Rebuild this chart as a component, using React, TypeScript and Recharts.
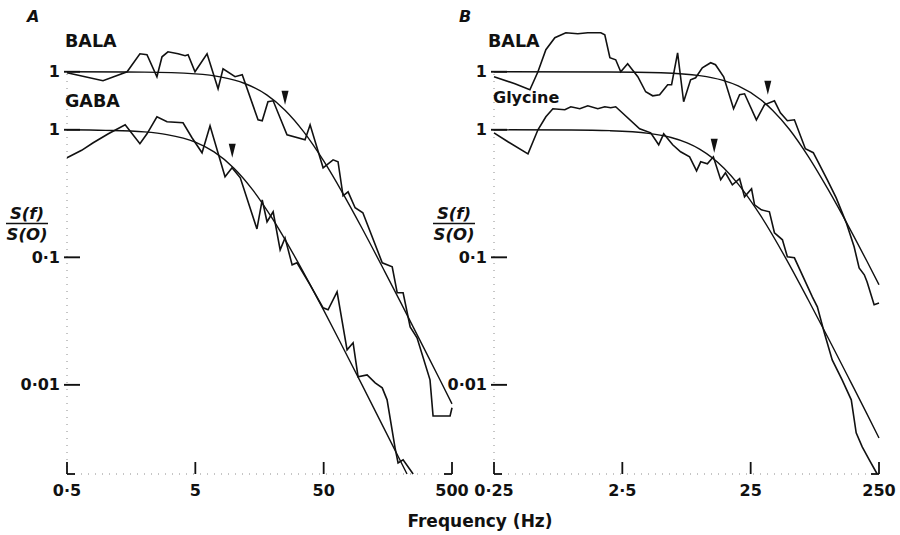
import { LineChart, Line, XAxis, YAxis, ReferenceLine, ReferenceDot } from "recharts";

// BALA spectra are drawn shifted up so the two "1" levels sit apart
const BALA_OFFSET = 2.85;
const FLOOR = 0.002;
const Y_TOP = 7;

// ---- panel A (Hz, S(f)/S(0)) ----
const balaAFreq = [0.5, 0.954, 1.47, 1.85, 2.1, 2.51, 2.75, 3.06, 3.67, 4.16, 4.39, 4.97, 6.17, 7.52, 8.22, 10.2, 11.6, 15.4, 16.6, 18.4, 20.2, 25.9, 35.8, 39.2, 49.5, 59.2, 64.7, 70.8, 77.5, 87.9, 101, 143, 171, 187, 208, 236, 267, 337, 356, 483, 500];
const balaAVal = [0.982, 0.85, 1.0, 1.384, 1.359, 0.914, 1.311, 1.435, 1.384, 1.335, 1.359, 1.0, 1.384, 0.736, 1.056, 0.914, 0.947, 0.42, 0.413, 0.582, 0.592, 0.3206, 0.293, 0.384, 0.1767, 0.204, 0.197, 0.1066, 0.1145, 0.0858, 0.0784, 0.0318, 0.0296, 0.0185, 0.0185, 0.01, 0.0082, 0.00384, 0.002, 0.002, 0.00232];

const gabaFreq = [0.5, 0.65, 0.8, 1.05, 1.42, 1.85, 2.1, 2.51, 3.01, 4.01, 4.71, 5.64, 6.51, 8.52, 9.66, 11.2, 15.1, 16.6, 18.1, 20.2, 22.9, 25.0, 28.4, 31.0, 39.2, 49.5, 54.1, 63.6, 76.1, 84.8, 92.7, 109, 126, 143, 156, 180, 190, 208, 249];
const gabaVal = [0.603, 0.69, 0.791, 0.93, 1.094, 0.777, 0.93, 1.264, 1.155, 1.135, 0.866, 0.66, 1.075, 0.428, 0.503, 0.42, 0.167, 0.282, 0.19, 0.2275, 0.1145, 0.142, 0.0873, 0.0905, 0.0609, 0.0402, 0.0388, 0.0536, 0.0188, 0.02135, 0.01155, 0.01198, 0.01037, 0.00947, 0.00763, 0.00321, 0.00244, 0.00258, 0.002];

const balaAFitFreq = [0.5, 2, 5, 8, 12, 18, 25, 35, 50, 70, 100, 150, 200, 300, 400, 500];
const balaAFitVal = [1, 0.994, 0.962, 0.907, 0.813, 0.659, 0.5, 0.338, 0.2, 0.113, 0.0588, 0.027, 0.0154, 0.0069, 0.0039, 0.00249];
const gabaFitFreq = [0.5, 1, 2, 3, 5, 7, 10, 14, 20, 30, 50, 70, 100, 150, 223];
const gabaFitVal = [1, 0.99, 0.962, 0.917, 0.8, 0.671, 0.5, 0.338, 0.2, 0.1, 0.0385, 0.02, 0.0099, 0.00442, 0.002];

// ---- panel B ----
const balaBFreq = [0.25, 0.364, 0.476, 0.55, 0.634, 0.745, 0.907, 1.125, 1.345, 1.7, 1.825, 2.0, 2.22, 2.43, 2.75, 3.3, 3.8, 4.31, 4.88, 5.64, 6.05, 6.74, 7.51, 8.51, 9.31, 10.5, 12.2, 13.3, 15.4, 18.4, 20.5, 22.4, 27.7, 32.0, 38.3, 42.6, 48.3, 54.8, 66.7, 76.9, 98.9, 116, 139, 160, 175, 192, 202, 229, 250];
const balaBVal = [0.914, 0.805, 0.723, 1.0, 1.488, 1.848, 2.022, 1.986, 2.022, 2.022, 1.951, 1.288, 1.242, 1.0, 1.155, 0.914, 0.697, 0.648, 0.66, 0.791, 0.791, 1.409, 0.582, 0.866, 0.897, 1.075, 1.177, 1.135, 0.914, 0.513, 0.66, 0.672, 0.42, 0.551, 0.592, 0.477, 0.413, 0.42, 0.249, 0.232, 0.142, 0.1027, 0.0654, 0.0424, 0.029, 0.0256, 0.0225, 0.0149, 0.0154];

const glyFreq = [0.25, 0.321, 0.46, 0.55, 0.634, 0.719, 0.891, 0.992, 1.166, 1.345, 1.61, 1.825, 2.03, 2.22, 3.41, 4.16, 4.8, 5.25, 6.17, 7.11, 8.36, 9.47, 10.2, 11.5, 12.8, 14.6, 15.9, 18.0, 20.5, 22.4, 25.4, 26.8, 30.3, 35.0, 38.3, 44.2, 48.3, 54.8, 75.6, 82.7, 93.7, 108, 129, 152, 166, 185, 210, 242];
const glyVal = [0.947, 0.805, 0.648, 1.0, 1.264, 1.461, 1.435, 1.515, 1.461, 1.542, 1.461, 1.515, 1.488, 1.515, 1.018, 0.947, 0.763, 0.93, 0.763, 0.672, 0.614, 0.477, 0.561, 0.541, 0.614, 0.4055, 0.46, 0.37, 0.413, 0.298, 0.3445, 0.258, 0.2358, 0.2275, 0.1557, 0.1372, 0.1009, 0.0991, 0.049, 0.0409, 0.0256, 0.0157, 0.01094, 0.00763, 0.00421, 0.00326, 0.00258, 0.002];

const balaBFitFreq = [0.25, 2, 5, 10, 15, 20, 30, 37, 50, 70, 100, 150, 200, 250];
const balaBFitVal = [1, 0.997, 0.982, 0.932, 0.859, 0.774, 0.603, 0.5, 0.354, 0.218, 0.12, 0.0574, 0.0331, 0.0214];
const glyFitFreq = [0.25, 1, 2, 4, 6, 8, 10, 15.5, 20, 30, 50, 70, 100, 150, 200, 250];
const glyFitVal = [1, 0.996, 0.984, 0.938, 0.87, 0.79, 0.706, 0.5, 0.375, 0.211, 0.0877, 0.0467, 0.0235, 0.0106, 0.006, 0.00383];

// corner-frequency arrowheads (tip position, normalised)
const arrowsAFreq = [25, 9.7];
const arrowsAVal = [0.551, 0.603];
const arrowsBFreq = [34, 13];
const arrowsBVal = [0.66, 0.66];

const xTicksA = [0.5, 5, 50, 500];
const xLabelsA = ["0·5", "5", "50", "500"];
const xTicksB = [0.25, 2.5, 25, 250];
const xLabelsB = ["0·25", "2·5", "25", "250"];

const yTicks = [BALA_OFFSET, 1, 0.1, 0.01];
const yLabels = ["1", "1", "0·1", "0·01"];

const FONT = "'DejaVu Sans', 'Liberation Sans', sans-serif";
const INK = "#111";
const X_MARGIN = 16;
const Y_MARGIN = 7;

type Pt = { f: number; v: number };
const pts = (fs: number[], vs: number[], k = 1): Pt[] => fs.map((f, i) => ({ f, v: vs[i] * k }));

function XTick(props: any) {
  const { x, y, index, visibleTicksCount, labels } = props;
  const axisY = y - X_MARGIN;
  const last = index === visibleTicksCount - 1;
  return (
    <g>
      <line x1={x} x2={x} y1={axisY} y2={axisY - 12} stroke={INK} strokeWidth={1.8} />
      {index === 0 && <line x1={x} x2={x + 8} y1={axisY} y2={axisY} stroke={INK} strokeWidth={1.8} />}
      {last && <line x1={x - 8} x2={x} y1={axisY} y2={axisY} stroke={INK} strokeWidth={1.8} />}
      <text x={x} y={y} textAnchor="middle" dominantBaseline="central" fontFamily={FONT} fontSize={16} fontWeight="bold" fill={INK}>
        {labels[index]}
      </text>
    </g>
  );
}

function YTick(props: any) {
  const { x, y, payload } = props;
  const axisX = x + Y_MARGIN;
  const i = yTicks.findIndex((t) => Math.abs(t - payload.value) < 1e-9);
  return (
    <g>
      <line x1={axisX - 3} x2={axisX + 13} y1={y} y2={y} stroke={INK} strokeWidth={1.9} />
      <text x={x} y={y} textAnchor="end" dominantBaseline="central" fontFamily={FONT} fontSize={16} fontWeight="bold" fill={INK}>
        {yLabels[i]}
      </text>
    </g>
  );
}

function Arrow(props: any) {
  const { cx, cy } = props;
  return <polygon points={`${cx - 3.5},${cy - 14} ${cx + 3.5},${cy - 14} ${cx},${cy}`} fill={INK} />;
}

type PanelProps = {
  xTicks: number[];
  xLabels: string[];
  noisy: Pt[][];
  fits: Pt[][];
  arrows: Pt[];
};

function Panel({ xTicks, xLabels, noisy, fits, arrows }: PanelProps) {
  const x0 = xTicks[0];
  const x1 = xTicks[xTicks.length - 1];
  return (
    <LineChart width={480} height={535} margin={{ top: 22, right: 28, bottom: 21, left: 7 }}>
      <XAxis
        dataKey="f"
        type="number"
        scale="log"
        domain={[x0, x1]}
        ticks={xTicks}
        interval={0}
        height={40}
        tickSize={0}
        tickMargin={X_MARGIN}
        tickLine={false}
        axisLine={{ stroke: "#8c8c8c", strokeDasharray: "1 6" }}
        tick={(p: any) => <XTick {...p} labels={xLabels} />}
      />
      <YAxis
        type="number"
        scale="log"
        domain={[FLOOR, Y_TOP]}
        ticks={yTicks}
        interval={0}
        width={60}
        tickSize={0}
        tickMargin={Y_MARGIN}
        tickLine={false}
        axisLine={false}
        tick={(p: any) => <YTick {...p} />}
      />
      <ReferenceLine
        segment={[{ x: x0, y: FLOOR }, { x: x0, y: BALA_OFFSET }]}
        stroke="#8c8c8c"
        strokeDasharray="1 6"
      />
      {fits.map((d, i) => (
        <Line key={`fit${i}`} data={d} dataKey="v" type="monotone" stroke={INK} strokeWidth={1.4} dot={false} activeDot={false} isAnimationActive={false} />
      ))}
      {noisy.map((d, i) => (
        <Line key={`raw${i}`} data={d} dataKey="v" type="linear" stroke={INK} strokeWidth={1.6} dot={false} activeDot={false} isAnimationActive={false} />
      ))}
      {arrows.map((a, i) => (
        <ReferenceDot key={`arr${i}`} x={a.f} y={a.v} r={3} shape={(p: any) => <Arrow {...p} />} />
      ))}
    </LineChart>
  );
}

function Fraction({ cx }: { cx: number }) {
  return (
    <g fontFamily={FONT} fontSize={16.5} fontStyle="italic" fontWeight="bold" fill={INK} textAnchor="middle">
      <text x={cx} y={219}>S(f)</text>
      <line x1={cx - 21} x2={cx + 21} y1={223.5} y2={223.5} stroke={INK} strokeWidth={1.6} />
      <text x={cx} y={239.5}>S(O)</text>
    </g>
  );
}

export default function App() {
  const arrowsA = [
    { f: arrowsAFreq[0], v: arrowsAVal[0] * BALA_OFFSET },
    { f: arrowsAFreq[1], v: arrowsAVal[1] },
  ];
  const arrowsB = [
    { f: arrowsBFreq[0], v: arrowsBVal[0] * BALA_OFFSET },
    { f: arrowsBFreq[1], v: arrowsBVal[1] },
  ];
  return (
    <div style={{ position: "absolute", left: 0, top: 0, width: 900, height: 535, overflow: "hidden", background: "#fff" }}>
      <div style={{ position: "absolute", left: 0, top: 0 }}>
        <Panel
          xTicks={xTicksA}
          xLabels={xLabelsA}
          noisy={[pts(balaAFreq, balaAVal, BALA_OFFSET), pts(gabaFreq, gabaVal)]}
          fits={[pts(balaAFitFreq, balaAFitVal, BALA_OFFSET), pts(gabaFitFreq, gabaFitVal)]}
          arrows={arrowsA}
        />
      </div>
      <div style={{ position: "absolute", left: 427, top: 0 }}>
        <Panel
          xTicks={xTicksB}
          xLabels={xLabelsB}
          noisy={[pts(balaBFreq, balaBVal, BALA_OFFSET), pts(glyFreq, glyVal)]}
          fits={[pts(balaBFitFreq, balaBFitVal, BALA_OFFSET), pts(glyFitFreq, glyFitVal)]}
          arrows={arrowsB}
        />
      </div>
      <svg width={900} height={535} style={{ position: "absolute", left: 0, top: 0, pointerEvents: "none" }}>
        <g fontFamily={FONT} fill={INK} fontWeight="bold">
          <text x={27} y={22} fontSize={16} fontStyle="italic">A</text>
          <text x={459} y={22} fontSize={16} fontStyle="italic">B</text>
          <text x={65} y={47} fontSize={17.5}>BALA</text>
          <text x={65} y={107} fontSize={17.5}>GABA</text>
          <text x={488} y={47} fontSize={17.5}>BALA</text>
          <text x={493} y={103} fontSize={16}>Glycine</text>
          <text x={480} y={527} fontSize={17} textAnchor="middle">Frequency (Hz)</text>
        </g>
        <Fraction cx={27} />
        <Fraction cx={454} />
      </svg>
    </div>
  );
}
